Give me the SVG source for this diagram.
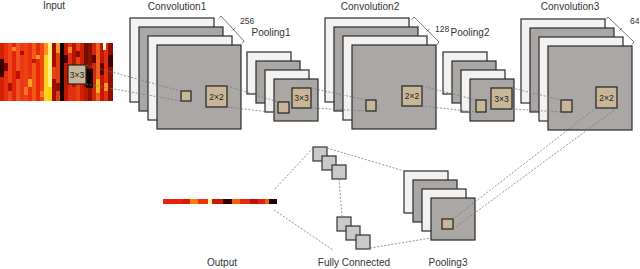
<svg xmlns="http://www.w3.org/2000/svg" width="640" height="269" viewBox="0 0 640 269">
<style>
.lbl{font-family:"Liberation Sans",Arial,sans-serif;font-size:10px;fill:#333}
.num{font-family:"Liberation Sans",Arial,sans-serif;font-size:8.5px;fill:#333}
.box{font-family:"Liberation Sans",Arial,sans-serif;font-size:8.5px;fill:#222;text-anchor:middle}
.w{fill:#f2f2f2;stroke:#2a2a2a;stroke-width:1.2}
.g{fill:#aaa7a4;stroke:#2a2a2a;stroke-width:1.2}
.t{fill:#c9b597;stroke:#222;stroke-width:1.2}
.fc{fill:#c9c9c9;stroke:#333;stroke-width:1.2}
.d{fill:none;stroke:#7a7a7a;stroke-width:0.8;stroke-dasharray:2 1.6}
.br{fill:none;stroke:#555;stroke-width:0.8}
</style>
<rect width="640" height="269" fill="#fff"/>

<g id="input">
<text class="lbl" x="54" y="9" text-anchor="middle">Input</text>
<g shape-rendering="crispEdges">
<rect x="0" y="43" width="4" height="58" fill="#d42000"/>
<rect x="4" y="43" width="4" height="58" fill="#e83010"/>
<rect x="8" y="43" width="4" height="58" fill="#f04818"/>
<rect x="12" y="43" width="4" height="58" fill="#e02808"/>
<rect x="16" y="43" width="4" height="58" fill="#f05020"/>
<rect x="20" y="43" width="4" height="58" fill="#e83818"/>
<rect x="24" y="43" width="4" height="58" fill="#f04010"/>
<rect x="28" y="43" width="4" height="58" fill="#e83010"/>
<rect x="32" y="43" width="4" height="58" fill="#f05818"/>
<rect x="36" y="43" width="4" height="58" fill="#e82808"/>
<rect x="40" y="43" width="4" height="58" fill="#f04a10"/>
<rect x="44" y="43" width="4" height="58" fill="#ffd020"/>
<rect x="48" y="43" width="4" height="58" fill="#fff080"/>
<rect x="52" y="43" width="4" height="58" fill="#a01000"/>
<rect x="56" y="43" width="4" height="58" fill="#e04010"/>
<rect x="60" y="43" width="4" height="58" fill="#180000"/>
<rect x="64" y="43" width="4" height="58" fill="#c01800"/>
<rect x="68" y="43" width="4" height="58" fill="#e03010"/>
<rect x="72" y="43" width="4" height="58" fill="#b01800"/>
<rect x="76" y="43" width="4" height="58" fill="#e84010"/>
<rect x="80" y="43" width="4" height="58" fill="#d02000"/>
<rect x="84" y="43" width="4" height="58" fill="#701000"/>
<rect x="88" y="43" width="4" height="58" fill="#901000"/>
<rect x="92" y="43" width="4" height="58" fill="#d02808"/>
<rect x="96" y="43" width="4" height="58" fill="#f06020"/>
<rect x="100" y="43" width="4" height="58" fill="#c01800"/>
<rect x="104" y="43" width="4" height="58" fill="#e03010"/>
<rect x="108" y="43" width="5" height="58" fill="#901000"/>
<rect x="0" y="59" width="4" height="18" fill="#3a0000"/>
<rect x="4" y="63" width="4" height="8" fill="#800000"/>
<rect x="8" y="83" width="4" height="8" fill="#b01000"/>
<rect x="12" y="47" width="4" height="4" fill="#ff8020"/>
<rect x="16" y="71" width="4" height="8" fill="#c01000"/>
<rect x="20" y="51" width="4" height="4" fill="#b01000"/>
<rect x="24" y="87" width="4" height="8" fill="#ff7020"/>
<rect x="28" y="79" width="4" height="8" fill="#ffa020"/>
<rect x="32" y="59" width="4" height="4" fill="#c01808"/>
<rect x="36" y="55" width="4" height="4" fill="#ffa020"/>
<rect x="40" y="91" width="4" height="6" fill="#ff8020"/>
<rect x="44" y="43" width="4" height="12" fill="#ff9020"/>
<rect x="48" y="87" width="4" height="14" fill="#ffd000"/>
<rect x="52" y="67" width="4" height="12" fill="#e84010"/>
<rect x="56" y="43" width="4" height="10" fill="#ff9a20"/>
<rect x="56" y="83" width="4" height="8" fill="#901000"/>
<rect x="64" y="55" width="4" height="8" fill="#500000"/>
<rect x="68" y="47" width="4" height="6" fill="#ff8020"/>
<rect x="72" y="87" width="4" height="14" fill="#e03010"/>
<rect x="76" y="51" width="4" height="6" fill="#900800"/>
<rect x="84" y="87" width="4" height="14" fill="#c01800"/>
<rect x="86" y="69" width="7" height="19" fill="#180000"/>
<rect x="92" y="55" width="4" height="8" fill="#600000"/>
<rect x="96" y="79" width="4" height="14" fill="#ffb020"/>
<rect x="100" y="63" width="4" height="12" fill="#600000"/>
<rect x="103" y="43" width="3" height="7" fill="#ffffff"/>
<rect x="104" y="83" width="4" height="8" fill="#ff9a20"/>
<rect x="108" y="55" width="5" height="12" fill="#400000"/>
</g>
<rect class="t" x="68" y="65" width="18" height="19"/>
<text class="box" x="77" y="77.5">3×3</text>
</g>

<g id="conv1">
<text class="lbl" x="177" y="10" text-anchor="middle">Convolution1</text>
<rect class="w" x="130" y="18" width="84" height="84"/>
<rect class="g" x="139" y="27" width="84" height="84"/>
<rect class="w" x="148" y="36" width="84" height="84"/>
<rect class="g" x="157" y="45" width="84" height="84"/>
<rect class="t" x="181" y="91" width="10" height="10"/>
<rect class="t" x="206" y="86" width="21" height="21"/>
<text class="box" x="216.5" y="99.5">2×2</text>
<path class="br" d="M219 18.5 L221 16 L244 41 L242 43.5 M232.5 30.5 L235.5 28"/>
<text class="num" x="240" y="24">256</text>
</g>

<g id="pool1">
<text class="lbl" x="271" y="36" text-anchor="middle">Pooling1</text>
<rect class="w" x="247" y="52" width="44" height="42"/>
<rect class="g" x="256" y="61" width="44" height="42"/>
<rect class="w" x="265" y="70" width="44" height="42"/>
<rect class="g" x="274" y="79" width="44" height="42"/>
<rect class="t" x="278" y="102" width="11" height="11"/>
<rect class="t" x="292" y="88" width="19" height="20"/>
<text class="box" x="301.5" y="101">3×3</text>
</g>

<g id="conv2">
<text class="lbl" x="370" y="10" text-anchor="middle">Convolution2</text>
<rect class="w" x="325" y="18" width="84" height="84"/>
<rect class="g" x="334" y="27" width="84" height="84"/>
<rect class="w" x="343" y="36" width="84" height="84"/>
<rect class="g" x="352" y="45" width="84" height="84"/>
<rect class="t" x="366" y="100" width="10" height="11"/>
<rect class="t" x="402" y="86" width="20" height="20"/>
<text class="box" x="412" y="99">2×2</text>
<path class="br" d="M412 19.5 L414 17 L439 42 L437 44.5 M427 31.5 L429.5 29"/>
<text class="num" x="435" y="32">128</text>
</g>

<g id="pool2">
<text class="lbl" x="470" y="36" text-anchor="middle">Pooling2</text>
<rect class="w" x="443" y="52" width="44" height="42"/>
<rect class="g" x="452" y="61" width="44" height="42"/>
<rect class="w" x="461" y="70" width="44" height="42"/>
<rect class="g" x="470" y="79" width="44" height="42"/>
<rect class="t" x="476" y="100" width="10" height="12"/>
<rect class="t" x="491" y="88" width="21" height="21"/>
<text class="box" x="501.5" y="101.5">3×3</text>
</g>

<g id="conv3">
<text class="lbl" x="570" y="10" text-anchor="middle">Convolution3</text>
<rect class="w" x="521" y="19" width="84" height="84"/>
<rect class="g" x="530" y="28" width="84" height="84"/>
<rect class="w" x="539" y="37" width="84" height="84"/>
<rect class="g" x="548" y="46" width="84" height="84"/>
<rect class="t" x="561" y="100" width="11" height="12"/>
<rect class="t" x="596" y="87" width="21" height="21"/>
<text class="box" x="606.5" y="100.5">2×2</text>
<path class="br" d="M606 19.5 L608 17 L634 42 L632 44.5 M619.5 30.5 L622 28"/>
<text class="num" x="630" y="24">64</text>
</g>

<g id="pool3">
<text class="lbl" x="448" y="266" text-anchor="middle">Pooling3</text>
<rect class="w" x="404" y="171" width="44" height="42"/>
<rect class="g" x="413" y="180" width="44" height="42"/>
<rect class="w" x="422" y="189" width="44" height="42"/>
<rect class="g" x="431" y="198" width="44" height="42"/>
<rect class="t" x="442" y="219" width="11" height="10"/>
</g>

<g id="fc">
<text class="lbl" x="354" y="266" text-anchor="middle">Fully Connected</text>
<rect class="fc" x="313" y="147" width="14" height="14"/>
<rect class="fc" x="322" y="156" width="14" height="14"/>
<rect class="fc" x="332" y="165" width="14" height="14"/>
<rect class="fc" x="337" y="217" width="14" height="14"/>
<rect class="fc" x="346" y="226" width="14" height="14"/>
<rect class="fc" x="356" y="235" width="14" height="14"/>
</g>

<g id="output">
<text class="lbl" x="222" y="266" text-anchor="middle">Output</text>
<g shape-rendering="crispEdges">
<rect x="163" y="199" width="19" height="4.5" fill="#e82010"/>
<rect x="182" y="199" width="8" height="4.5" fill="#e01808"/>
<rect x="190" y="199" width="8" height="4.5" fill="#f88010"/>
<rect x="198" y="199" width="10" height="4.5" fill="#f03010"/>
<rect x="208" y="199" width="4" height="4.5" fill="#fff0a0"/>
<rect x="212" y="199" width="11" height="4.5" fill="#d01808"/>
<rect x="223" y="199" width="9" height="4.5" fill="#300000"/>
<rect x="232" y="199" width="8" height="4.5" fill="#f06010"/>
<rect x="240" y="199" width="10" height="4.5" fill="#e82808"/>
<rect x="250" y="199" width="8" height="4.5" fill="#c01008"/>
<rect x="258" y="199" width="7" height="4.5" fill="#e02010"/>
<rect x="265" y="199" width="4" height="4.5" fill="#f06010"/>
<rect x="269" y="199" width="8" height="4.5" fill="#200000"/>
</g>
</g>

<g id="connectors">
<path class="d" d="M86 65 L181 91 M86 84 L181 101"/>
<path class="d" d="M227 86 L278 102 M227 107 L278 113"/>
<path class="d" d="M311 88 L366 100 M311 108 L366 111"/>
<path class="d" d="M422 86 L476 100 M422 106 L476 112"/>
<path class="d" d="M512 88 L561 100 M512 109 L561 112"/>
<path class="d" d="M596 108 L453 219 M617 108 L453 229"/>
<path class="d" d="M327 148 L404 171 M370 248 L431 238"/>
<path class="d" d="M339 179 L342 217"/>
<path class="d" d="M313 148 L274 190 M274 210 L333 250"/>
</g>
</svg>
